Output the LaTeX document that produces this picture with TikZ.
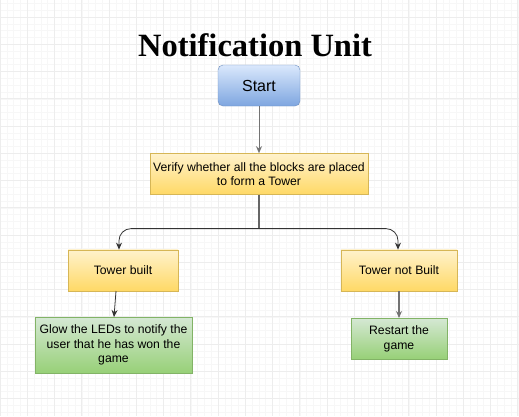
\documentclass[tikz,border=0pt]{standalone}
\usepackage{fontspec}
\setmainfont{Liberation Sans}
\newfontfamily\titlefont{Liberation Serif}
\usepackage{tikz}
\usetikzlibrary{arrows.meta, positioning}

\definecolor{startTop}{HTML}{DAE8FC}
\definecolor{startBot}{HTML}{7EA6E0}
\definecolor{startLine}{HTML}{6C8EBF}
\definecolor{checkTop}{HTML}{FFF2CC}
\definecolor{checkBot}{HTML}{FFD966}
\definecolor{checkLine}{HTML}{D6B656}
\definecolor{actTop}{HTML}{D5E8D4}
\definecolor{actBot}{HTML}{97D077}
\definecolor{actLine}{HTML}{82B366}
\newcommand{\diagfont}{\fontsize{12.2}{14.4}\selectfont}

\begin{document}
\begin{tikzpicture}[
  >={Stealth[length=7pt,width=6pt]},
  startnode/.style={draw=startLine, rounded corners=5pt, top color=startTop, bottom color=startBot, minimum width=82pt, minimum height=41pt, inner sep=2pt, font=\fontsize{16}{18}\selectfont},
  checknode/.style={draw=checkLine, top color=checkTop, bottom color=checkBot, minimum height=41pt, inner sep=2pt, font=\diagfont, align=center},
  actnode/.style={draw=actLine, top color=actTop, bottom color=actBot, minimum height=41pt, inner sep=2pt, font=\diagfont, align=center},
  flow/.style={->, draw=black!80, line width=0.8pt},
  flowgrey/.style={->, draw=black!55, line width=1.4pt},
  gridminor/.style={draw=black!3, line width=0.5pt},
  gridmajor/.style={draw=black!7, line width=0.6pt}
]
\useasboundingbox (0,0) rectangle (519pt,-416pt);
\fill[white] (0,0) rectangle (519pt,-416pt);

% background grid
\foreach \i in {0,...,76} \draw[gridminor] (\i*6.8125pt,0) -- (\i*6.8125pt,-416pt);
\foreach \j in {-2,...,58} \draw[gridminor] (0,-17pt-\j*6.8125pt) -- (519pt,-17pt-\j*6.8125pt);
\foreach \i in {0,...,19} \draw[gridmajor] (\i*27.25pt,0) -- (\i*27.25pt,-416pt);
\foreach \j in {0,...,14} \draw[gridmajor] (0,-17pt-\j*27.25pt) -- (519pt,-17pt-\j*27.25pt);

\node[anchor=base, font=\titlefont\bfseries\fontsize{32.5}{36}\selectfont] (Title) at (255pt,-56pt) {Notification Unit};

\node[startnode] (Start) at (259pt,-85.5pt) {Start};
\node[checknode, minimum width=218pt] (Verify) [below=47pt of Start] {Verify whether all the blocks are placed\\to form a Tower};
\coordinate (Split) at ([yshift=-34pt]Verify.south);

\node[checknode, minimum width=110pt] (Built) [below=55pt of Verify, xshift=-136pt] {Tower built};
\node[checknode, minimum width=116pt] (NotBuilt) [below=55pt of Verify, xshift=140pt] {Tower not Built};

\node[actnode, minimum width=157pt, minimum height=56pt] (Glow) [below=26pt of Built, xshift=-9.5pt] {Glow the LEDs to notify the\\user that he has won the\\game};
\node[actnode, minimum width=96pt] (Restart) [below=27pt of NotBuilt] {Restart the\\game};

\draw[flowgrey, line width=1pt] (Start) -- (Verify);
\draw[draw=black!60, line width=1.1pt] (Verify.south) -- (Split);
\draw[flow, rounded corners=12pt] (Split) -| ([xshift=-4pt]Built.north);
\draw[flow, rounded corners=12pt] (Split) -| ([xshift=-1pt]NotBuilt.north);
\draw[flow] ([xshift=-7pt]Built.south) -- ([xshift=0.5pt]Glow.north);
\draw[flowgrey] (NotBuilt) -- (Restart);
\end{tikzpicture}
\end{document}
